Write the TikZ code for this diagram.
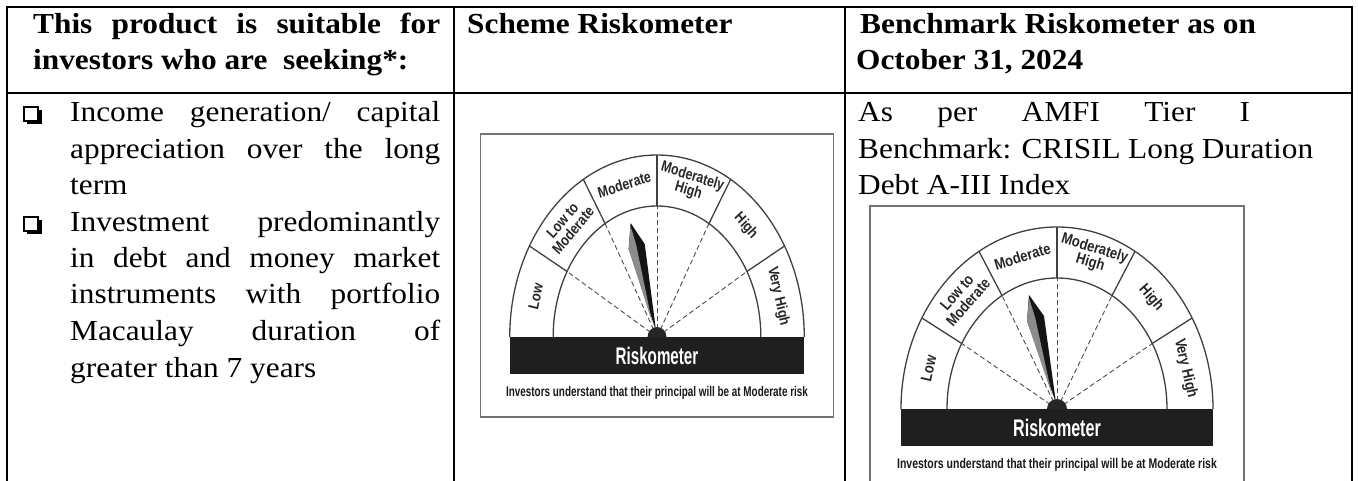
\documentclass[tikz,border=0pt]{standalone}
\usepackage{fontspec}
\setmainfont{Liberation Serif}[FakeStretch=1.08]
\newfontfamily\rskA{Liberation Sans}[FakeStretch=0.84]
\newfontfamily\rskB{Liberation Sans}[FakeStretch=0.67]
\newfontfamily\rskC{Liberation Sans}[FakeStretch=0.75]
\newcommand\jl[2]{\makebox[#1][s]{#2}}
\tikzset{
 tline/.style={line width=2.2pt, draw=black},
 gbox/.style={draw=black!55, line width=1.2pt},
 gline/.style={draw=black!75, line width=1.3pt},
 gdash/.style={draw=black!70, line width=0.9pt, dash pattern=on 5pt off 3pt},
 glabel/.style={font=\rskA\bfseries\fontsize{15.5}{15}\selectfont, text=black!85, inner sep=0pt, align=center, transform shape},
 body/.style={font=\fontsize{29}{36}\selectfont, inner sep=0pt, anchor=base west},
 head/.style={font=\fontsize{29}{36}\selectfont\bfseries, inner sep=0pt, anchor=base west},
 bulbox/.style={draw=black, fill=white, line width=1.3pt},
}
\newcommand\bul[1]{%
  \fill[black] (27,{-(#1+2)}) rectangle (42,{-(#1-12)});
  \draw[bulbox] (24,{-(#1-1)}) rectangle (38,{-(#1-15)});
}
\newcommand\drawgauge{%
  \draw[gbox] (-187,-80) rectangle (187,203);
  \fill[black!88] (-156,-37) rectangle (156,0);
  \draw[gline] (-156,0) arc[start angle=180,end angle=0,x radius=156,y radius=182];
  \draw[gline] (-110,0) arc[start angle=180,end angle=0,x radius=110,y radius=131];
  \foreach \t in {30,60,90,120,150} {
    \draw[gline] ({110*cos(\t)},{131*sin(\t)}) -- ({156*cos(\t)},{182*sin(\t)});
    \draw[gdash] (0,0) -- ({110*cos(\t)},{131*sin(\t)});
  }
  \node[glabel, rotate=77] (low) at (-128.4,40.5) {Low};
  \node[glabel, rotate=49] (lowmod) at (-94.5,111.5) {Low to\\Moderate};
  \node[glabel, rotate=17] (mod) at (-34.6,152.5) {Moderate};
  \node[glabel, rotate=-17] (modhigh) at (35.4,153) {Moderately\\High};
  \node[glabel, rotate=-49] (high) at (94,110.7) {High};
  \node[glabel, rotate=-77] (vhigh) at (128.4,40.5) {Very High};
  \fill[black!92] (-28,114) -- (-13,93) -- (-1,6) -- (-30,88) -- cycle;
  \fill[black!45] (-28,111) -- (-30,88) -- (-5,14) -- (-22,92) -- cycle;
  \fill[black!85] (-10,0) arc[start angle=180,end angle=0,radius=10] -- cycle;
  \node[font=\rskB\bfseries\fontsize{24}{24}\selectfont, text=white, inner sep=0pt, transform shape] (rk) at (0,-18.5) {Riskometer};
  \node[font=\rskC\bfseries\fontsize{14}{14}\selectfont, text=black!90, inner sep=0pt, transform shape] (inv) at (0,-56) {Investors understand that their principal will be at Moderate risk};
}
\begin{document}
\begin{tikzpicture}[x=1pt,y=1pt]
\useasboundingbox (0,0) rectangle (1358,-481);
\clip (0,0) rectangle (1358,-481);
\fill[white] (0,0) rectangle (1358,-481);
% table rules
\draw[tline] (7,-481) -- (7,-7) -- (1352,-7) -- (1352,-481);
\draw[tline] (7,-93) -- (1352,-93);
\draw[tline] (454,-7) -- (454,-481);
\draw[tline] (845,-7) -- (845,-481);
% headers
\node[head] (h1a) at (33,-34) {\jl{407pt}{This product is suitable for}};
\node[head] (h1b) at (33,-70) {investors who are\ \ seeking*:};
\node[head] (h2) at (467,-34) {Scheme Riskometer};
\node[head] (h3a) at (860,-34) {Benchmark Riskometer as on};
\node[head] (h3b) at (856,-70) {October 31, 2024};
% column 1 body
\bul{122}
\bul{232}
\node[body] (b1) at (70,-122) {\jl{370pt}{Income generation/ capital}};
\node[body] (b2) at (70,-158.5) {\jl{370pt}{appreciation over the long}};
\node[body] (b3) at (70,-195) {term};
\node[body] (b4) at (70,-232) {\jl{370pt}{Investment predominantly}};
\node[body] (b5) at (70,-268) {\jl{370pt}{in debt and money market}};
\node[body] (b6) at (70,-304) {\jl{370pt}{instruments with portfolio}};
\node[body] (b7) at (70,-340.5) {\jl{370pt}{Macaulay duration of}};
\node[body] (b8) at (70,-377) {greater than 7 years};
% column 3 body
\node[body] (c1) at (858,-122) {\jl{392pt}{As per AMFI Tier I}};
\node[body] (c2) at (858,-158.5) {\jl{455pt}{Benchmark: CRISIL Long Duration}};
\node[body] (c3) at (858,-195) {Debt A-III Index};
% gauges
\begin{scope}[shift={(657,-337)}, xscale=0.944, name prefix=ga-]
\drawgauge
\end{scope}
\begin{scope}[shift={(1057,-409)}, name prefix=gb-]
\drawgauge
\end{scope}
\end{tikzpicture}
\end{document}
